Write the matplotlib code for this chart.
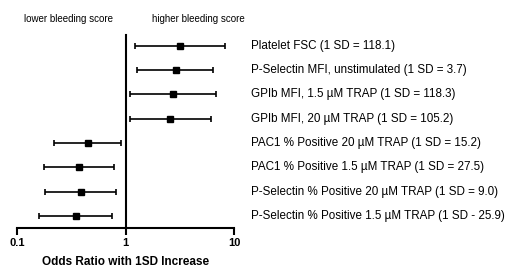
import matplotlib.pyplot as plt
import numpy as np

plt.rcParams['font.family'] = ['Liberation Sans', 'DejaVu Sans']

# Data
labels = [
    "Platelet FSC (1 SD = 118.1)",
    "P-Selectin MFI, unstimulated (1 SD = 3.7)",
    "GPIb MFI, 1.5 \u00b5M TRAP (1 SD = 118.3)",
    "GPIb MFI, 20 \u00b5M TRAP (1 SD = 105.2)",
    "PAC1 % Positive 20 \u00b5M TRAP (1 SD = 15.2)",
    "PAC1 % Positive 1.5 \u00b5M TRAP (1 SD = 27.5)",
    "P-Selectin % Positive 20 \u00b5M TRAP (1 SD = 9.0)",
    "P-Selectin % Positive 1.5 \u00b5M TRAP (1 SD - 25.9)",
]
odds = [3.18, 2.91, 2.73, 2.59, 0.45, 0.374, 0.385, 0.349]
lower = [1.23, 1.29, 1.11, 1.09, 0.22, 0.177, 0.182, 0.161]
upper = [8.3, 6.45, 6.79, 6.14, 0.91, 0.79, 0.81, 0.75]

fig = plt.figure(figsize=(5.2, 2.8), dpi=100)
ax = fig.add_axes([17 / 520, 1 - 228 / 280, 217 / 520, 193 / 280])

y = np.arange(1, len(odds) + 1)
odds = np.array(odds)
err = [odds - np.array(lower), np.array(upper) - odds]
ax.errorbar(odds, y, xerr=err, fmt='s', color='black', ms=5,
            elinewidth=1.2, capsize=2.5, capthick=1.2)

ax.set_xscale('log')
ax.set_xlim(0.1, 10)
ax.set_ylim(8.5, 0.55)
ax.set_xticks([0.1, 1, 10])
ax.set_xticklabels(['0.1', '1', '10'], fontweight='bold', fontsize=8)
ax.minorticks_off()
ax.set_yticks([])
ax.tick_params(axis='x', direction='out', length=5, width=1.5, pad=2)

ax.spines['top'].set_visible(False)
ax.spines['right'].set_visible(False)
ax.spines['left'].set_position(('data', 1))
ax.spines['left'].set_linewidth(1.5)
ax.spines['bottom'].set_linewidth(1.5)

ax.set_xlabel("Odds Ratio with 1SD Increase", fontweight='bold', fontsize=8.5, labelpad=6)

for yi, lab in zip(y, labels):
    ax.annotate(lab, xy=(251 / 520, yi), xycoords=('figure fraction', 'data'),
                fontsize=8.4, va='center', ha='left', annotation_clip=False)

fig.text(68 / 520, 1 - 19 / 280, "lower bleeding score", fontsize=7, ha='center', va='center')
fig.text(198 / 520, 1 - 19 / 280, "higher bleeding score", fontsize=7, ha='center', va='center')

fig.savefig('out.png', dpi=100)
